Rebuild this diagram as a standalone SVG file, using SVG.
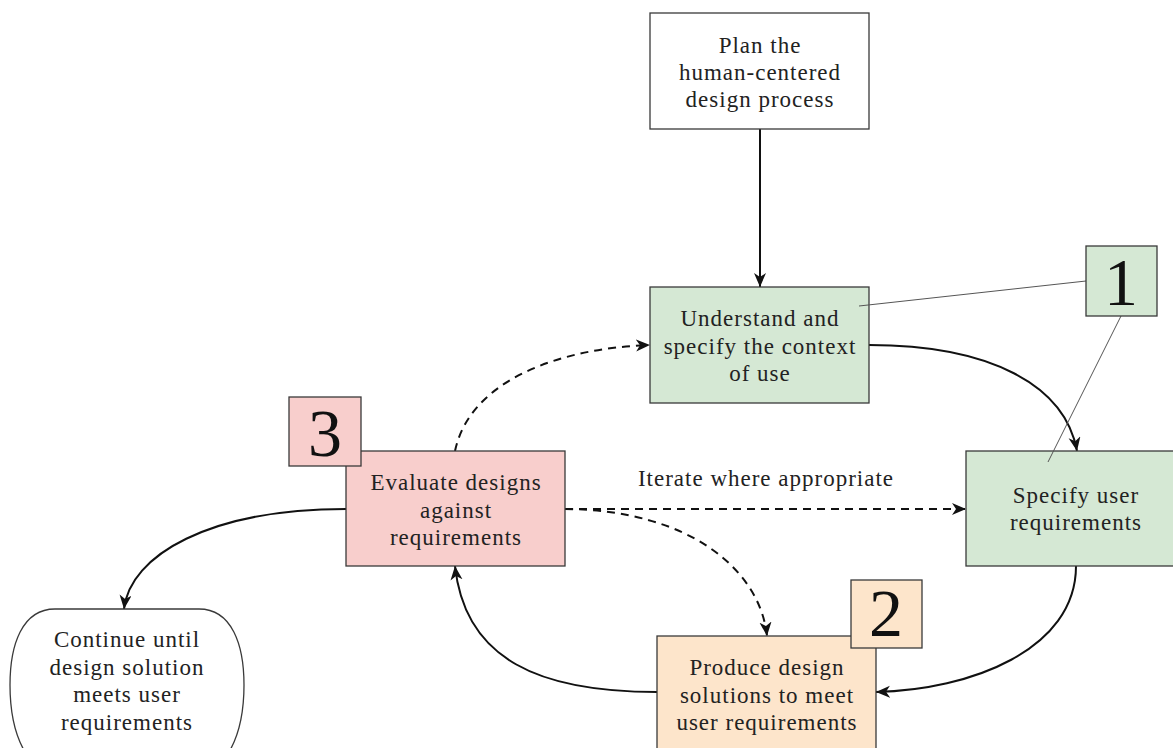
<svg xmlns="http://www.w3.org/2000/svg" width="1173" height="748" viewBox="0 0 1173 748">
  <style>
    .box { stroke: #3a3a3a; stroke-width: 1.3; }
    .plain { fill: #ffffff; }
    .green { fill: #d5e8d4; }
    .pink { fill: #f8cecc; }
    .peach { fill: #fde5cb; }
    .label { font-family: "Liberation Serif", "Times New Roman", serif; font-size: 23px; letter-spacing: 1px; fill: #222; text-anchor: middle; }
    .num { font-family: "Liberation Serif", "Times New Roman", serif; font-size: 68px; fill: #111; text-anchor: middle; }
    .edge { fill: none; stroke: #111; stroke-width: 2; }
    .dashed { stroke-dasharray: 8 6; }
    .leader { fill: none; stroke: #555; stroke-width: 1; }
  </style>
  <defs>
    <marker id="arrow" markerUnits="userSpaceOnUse" markerWidth="16" markerHeight="14" refX="14" refY="6" orient="auto">
      <path d="M0,0 L14,6 L0,12 L4,6 Z" fill="#111"/>
    </marker>
  </defs>

  <!-- connectors -->
  <g id="connectors">
    <path class="edge" d="M760,129 L760,287" marker-end="url(#arrow)"/>
    <path class="edge" d="M869,345 C990,345 1065,385 1077,451" marker-end="url(#arrow)"/>
    <path class="edge" d="M1076,566 C1076,650 970,690 876,692" marker-end="url(#arrow)"/>
    <path class="edge" d="M657,692 C540,692 465,660 455,566" marker-end="url(#arrow)"/>
    <path class="edge" d="M346,509 C210,509 130,555 124,609" marker-end="url(#arrow)"/>
    <path class="edge dashed" d="M455,451 C470,380 560,348 650,345" marker-end="url(#arrow)"/>
    <path class="edge dashed" d="M565,509 L966,509" marker-end="url(#arrow)"/>
    <path class="edge dashed" d="M565,509 C690,510 760,570 767,636" marker-end="url(#arrow)"/>
    <text class="label" x="766" y="486">Iterate where appropriate</text>
  </g>

  <g id="plan">
    <rect class="box plain" x="650" y="13" width="219" height="116"/>
    <text class="label" x="760" y="53">Plan the</text>
    <text class="label" x="760" y="80">human-centered</text>
    <text class="label" x="760" y="107">design process</text>
  </g>

  <g id="understand">
    <rect class="box green" x="650" y="287" width="219" height="116"/>
    <text class="label" x="760" y="326">Understand and</text>
    <text class="label" x="760" y="354">specify the context</text>
    <text class="label" x="760" y="381">of use</text>
  </g>

  <g id="specify">
    <rect class="box green" x="966" y="451" width="219" height="115"/>
    <text class="label" x="1076" y="503">Specify user</text>
    <text class="label" x="1076" y="530">requirements</text>
  </g>

  <g id="produce">
    <rect class="box peach" x="657" y="636" width="219" height="130"/>
    <text class="label" x="767" y="675">Produce design</text>
    <text class="label" x="767" y="703">solutions to meet</text>
    <text class="label" x="767" y="730">user requirements</text>
  </g>

  <g id="evaluate">
    <rect class="box pink" x="346" y="451" width="219" height="115"/>
    <text class="label" x="456" y="490">Evaluate designs</text>
    <text class="label" x="456" y="518">against</text>
    <text class="label" x="456" y="545">requirements</text>
  </g>

  <g id="continue">
    <path class="box plain" d="M55,609 L199,609 C232,609 244,645 244,685 C244,720 236,745 222,762 L32,762 C18,745 10,720 10,685 C10,645 22,609 55,609 Z"/>
    <text class="label" x="127" y="647">Continue until</text>
    <text class="label" x="127" y="675">design solution</text>
    <text class="label" x="127" y="702">meets user</text>
    <text class="label" x="127" y="730">requirements</text>
  </g>

  <!-- leader lines tying badge 1 to its two boxes -->
  <g id="badge-leaders">
    <path class="leader" d="M1086,281 L859,306"/>
    <path class="leader" d="M1121,316 L1048,462"/>
  </g>

  <g id="badge-1">
    <rect class="box green" x="1086" y="246" width="71" height="70"/>
    <text class="num" x="1121" y="305">1</text>
  </g>

  <g id="badge-2">
    <rect class="box peach" x="851" y="580" width="71" height="68"/>
    <text class="num" x="886" y="636">2</text>
  </g>

  <g id="badge-3">
    <rect class="box pink" x="289" y="397" width="72" height="69"/>
    <text class="num" x="325" y="456">3</text>
  </g>
</svg>
